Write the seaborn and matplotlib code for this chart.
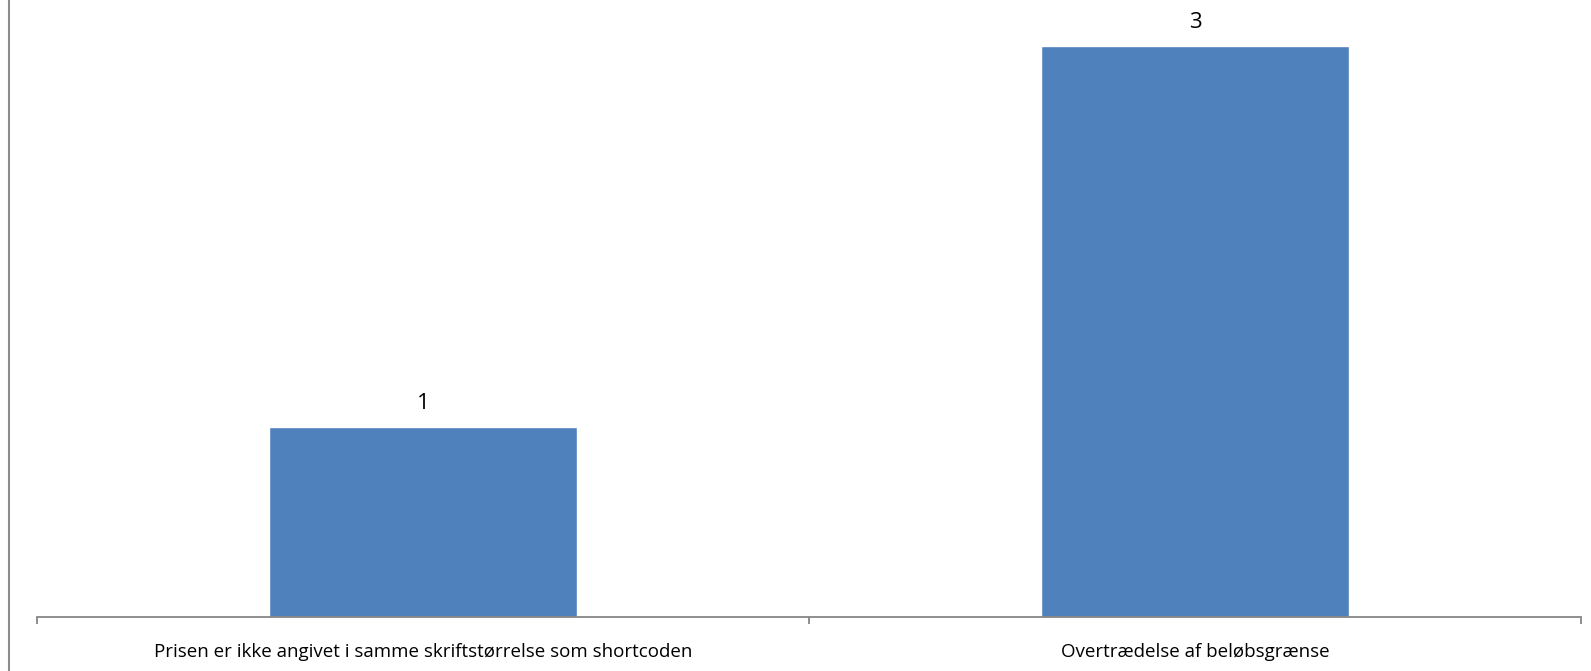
import matplotlib
matplotlib.use("Agg")
import matplotlib.pyplot as plt
import seaborn as sns
import pandas as pd
from matplotlib.lines import Line2D

categories = ["Prisen er ikke angivet i samme skriftstørrelse som shortcoden",
              "Overtrædelse af beløbsgrænse"]
counts = [1, 3]

df = pd.DataFrame({"kategori": categories, "antal": counts})

sns.set_style("white")
plt.rcParams['font.family'] = ['Open Sans', 'DejaVu Sans']

fig = plt.figure(figsize=(15.91, 6.71), dpi=100)
ax = fig.add_axes([37 / 1591, 54 / 671, 1544 / 1591, 617 / 671])

sns.barplot(data=df, x="kategori", y="antal", color="#4F81BD", width=0.4,
            saturation=1, ax=ax)

# værdier over søjlerne
for i, v in enumerate(counts):
    ax.annotate(str(v), (i, v), xytext=(0, 9), textcoords="offset points",
                ha="center", va="bottom", fontsize=16, color="black")

ax.set_xlim(-0.5, 1.5)
ax.set_ylim(0, 3.24)
ax.set_xlabel("")
ax.set_ylabel("")
ax.set_yticks([])

for side in ["top", "right", "left"]:
    ax.spines[side].set_visible(False)
ax.spines["bottom"].set_color("#868686")
ax.spines["bottom"].set_linewidth(1.3)

ax.set_xticks([-0.5, 0.5, 1.5], minor=True)
ax.tick_params(axis="x", which="minor", length=5, width=1.3, color="#868686",
               direction="out", bottom=True)
ax.tick_params(axis="x", which="major", length=0, pad=19, labelsize=13.5,
               labelcolor="black")

fig.add_artist(Line2D([8.5 / 1591, 8.5 / 1591], [0, 1], transform=fig.transFigure,
                      color="#8c8c8c", linewidth=1.5))

fig.savefig("out.png", dpi=100, facecolor="white")
